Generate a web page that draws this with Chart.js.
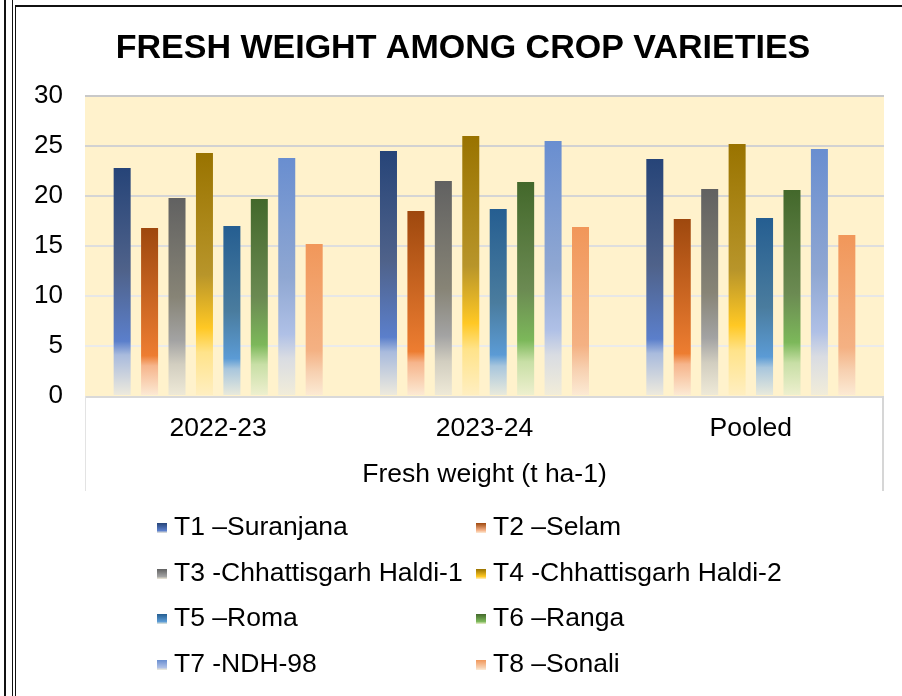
<!DOCTYPE html>
<html>
<head>
<meta charset="utf-8">
<script src="https://cdn.jsdelivr.net/npm/chart.js@4.4.1/dist/chart.umd.min.js"></script>
<style>
  html, body { margin: 0; padding: 0; background: #ffffff; }
  #wrap { position: relative; width: 902px; height: 696px; overflow: hidden; background: #fff; }
  #c { position: absolute; left: 0; top: 0; }
  .ln { position: absolute; background: #111; }
  #legend { position: absolute; left: 157px; top: 504px; display: grid;
            grid-template-columns: 319px auto; grid-auto-rows: 45.5px;
            font-family: "Liberation Sans", Arial, sans-serif; font-size: 26.5px; color: #000; }
  .item { display: flex; align-items: center; white-space: nowrap; }
  .box { width: 10px; height: 10px; margin-right: 7px; margin-top: 3px; }
</style>
</head>
<body>
<div id="wrap">
  <canvas id="c" width="902" height="696"></canvas>
  <div class="ln" style="left:4px;top:0;width:2px;height:696px;"></div>
  <div class="ln" style="left:12px;top:0;width:1px;height:696px;"></div>
  <div class="ln" style="left:15px;top:5px;width:1px;height:691px;"></div>
  <div class="ln" style="left:15px;top:5px;width:887px;height:2px;"></div>
  <div id="legend"></div>
</div>
<script>
// ---- data ----
const categories = ["2022-23", "2023-24", "Pooled"];
const seriesNames = [
  "T1 \u2013Suranjana", "T2 \u2013Selam",
  "T3 -Chhattisgarh Haldi-1", "T4 -Chhattisgarh Haldi-2",
  "T5 \u2013Roma", "T6 \u2013Ranga",
  "T7 -NDH-98", "T8 \u2013Sonali"
];
const t1 = [22.8, 24.5, 23.7];
const t2 = [16.8, 18.5, 17.7];
const t3 = [19.8, 21.5, 20.7];
const t4 = [24.3, 26.0, 25.2];
const t5 = [17.0, 18.7, 17.8];
const t6 = [19.7, 21.4, 20.6];
const t7 = [23.8, 25.5, 24.7];
const t8 = [15.2, 16.9, 16.1];
const yTicks = [0, 5, 10, 15, 20, 25, 30];
const chartTitle = "FRESH WEIGHT AMONG CROP VARIETIES";
const axisTitle = "Fresh weight (t ha-1)";

// ---- styles ----
const seriesValues = [t1, t2, t3, t4, t5, t6, t7, t8];
const gradStops = [
  [[0, "#264478"], [0.45, "#4F628A"], [0.76, "#5B7FCB"], [0.82, "#A9BBDD"], [1, "#EFEBDD"]],
  [[0, "#9E480E"], [0.76, "#ED7D31"], [0.82, "#F6B58C"], [1, "#FCEBD6"]],
  [[0, "#616161"], [0.5, "#878476"], [0.72, "#A3A3A3"], [0.84, "#D2CEC0"], [1, "#EFEAD8"]],
  [[0, "#997300"], [0.5, "#B8952A"], [0.72, "#FFC824"], [0.82, "#FFE38A"], [1, "#FFEFC2"]],
  [[0, "#255E91"], [0.5, "#4A7C9E"], [0.78, "#5B9BD5"], [0.84, "#A8C6DD"], [1, "#EBEBDC"]],
  [[0, "#43682B"], [0.5, "#6B8A52"], [0.74, "#7CB85A"], [0.84, "#C8DFA6"], [1, "#EFF0D0"]],
  [[0, "#698ED0"], [0.5, "#8FA7D2"], [0.74, "#AFC0E6"], [0.84, "#D9DCE2"], [1, "#F2EDD9"]],
  [[0, "#F1975A"], [0.7, "#F4B183"], [0.84, "#F7D0B0"], [1, "#FCEBD5"]]
];
const gridColors = {30: "#C9C9C9", 25: "#D2D2D2", 20: "#D5D5D5", 15: "#DEDEDE", 10: "#E7E7E7", 5: "#EBEBEB", 0: "rgba(0,0,0,0)"};
const FONT = "'Liberation Sans', Arial, sans-serif";

function barGradient(ctx) {
  const chart = ctx.chart;
  const stops = gradStops[ctx.datasetIndex];
  const ys = chart.scales && chart.scales.y;
  if (!chart.chartArea || !ys || ctx.type !== "data") return stops[0][1];
  const top = ys.getPixelForValue(ctx.raw);
  const bottom = ys.getPixelForValue(0);
  if (!isFinite(top) || !isFinite(bottom) || bottom - top < 1) return stops[0][1];
  const g = chart.ctx.createLinearGradient(0, top, 0, bottom);
  stops.forEach(s => g.addColorStop(s[0], s[1]));
  return g;
}

const bgPlugin = {
  id: "bgPlugin",
  afterLayout(chart) {
    // centre the title over the region the original centres it on
    if (chart.titleBlock) { chart.titleBlock.left = 42; }
  },
  beforeDraw(chart) {
    const a = chart.chartArea, c = chart.ctx;
    c.save();
    c.fillStyle = "#FFF2CC";
    c.fillRect(a.left, a.top, a.right - a.left, a.bottom - a.top);
    c.restore();
  },
  afterDatasetsDraw(chart) {
    const a = chart.chartArea, c = chart.ctx;
    c.save();
    c.strokeStyle = "#D9D9D9";
    c.lineWidth = 2;
    c.beginPath();
    c.moveTo(a.left, a.bottom + 1); c.lineTo(a.right, a.bottom + 1);
    c.stroke();
    c.lineWidth = 1;
    c.strokeStyle = "#E3E3E3";
    c.beginPath();
    c.moveTo(a.left + 0.5, a.bottom); c.lineTo(a.left + 0.5, a.bottom + 95);
    c.stroke();
    c.lineWidth = 2;
    c.strokeStyle = "#D6D6D6";
    c.beginPath();
    c.moveTo(a.right - 1, a.bottom); c.lineTo(a.right - 1, a.bottom + 95);
    c.stroke();
    c.restore();
  }
};

const chart = new Chart(document.getElementById("c"), {
  type: "bar",
  data: {
    labels: categories,
    datasets: seriesValues.map((vals, i) => ({
      label: seriesNames[i],
      data: vals,
      backgroundColor: barGradient,
      borderWidth: 0,
      categoryPercentage: 0.824,
      barPercentage: 0.62
    }))
  },
  options: {
    responsive: false,
    animation: false,
    devicePixelRatio: 1,
    layout: { padding: { left: 0, right: 18, top: 0, bottom: 205 } },
    plugins: {
      legend: { display: false },
      tooltip: { enabled: false },
      title: {
        display: true,
        text: chartTitle,
        color: "#000",
        font: { family: FONT, size: 34, weight: "bold" },
        padding: { top: 28.4, bottom: 26.8 }
      }
    },
    scales: {
      y: {
        min: 0, max: 30,
        afterBuildTicks(s) { s.ticks = yTicks.map(v => ({ value: v })); },
        afterFit(s) { s.width = 85; },
        border: { display: false },
        grid: {
          drawTicks: false,
          lineWidth: 2,
          color: (c) => gridColors[c.tick ? c.tick.value : 0] || "#E0E0E0"
        },
        ticks: { color: "#000", padding: 22, font: { family: FONT, size: 26 } }
      },
      x: {
        afterFit(s) { s.height = 95; },
        border: { display: false },
        grid: { display: false, drawTicks: false },
        ticks: { color: "#000", padding: 17, font: { family: FONT, size: 26.5 } },
        title: {
          display: true, text: axisTitle, color: "#000",
          font: { family: FONT, size: 26.5 },
          padding: { top: 0, bottom: 0 }
        }
      }
    }
  },
  plugins: [bgPlugin]
});

// ---- HTML legend built from dataset labels ----
const leg = document.getElementById("legend");
chart.data.datasets.forEach((ds, i) => {
  const it = document.createElement("div");
  it.className = "item";
  const b = document.createElement("span");
  b.className = "box";
  const st = gradStops[i];
  b.style.background = "linear-gradient(to bottom, " + st[0][1] + " 0%, " + st[Math.min(2, st.length - 2)][1] + " 75%, " + st[st.length - 1][1] + " 100%)";
  const t = document.createElement("span");
  t.textContent = ds.label;
  it.appendChild(b); it.appendChild(t);
  leg.appendChild(it);
});
</script>
</body>
</html>
